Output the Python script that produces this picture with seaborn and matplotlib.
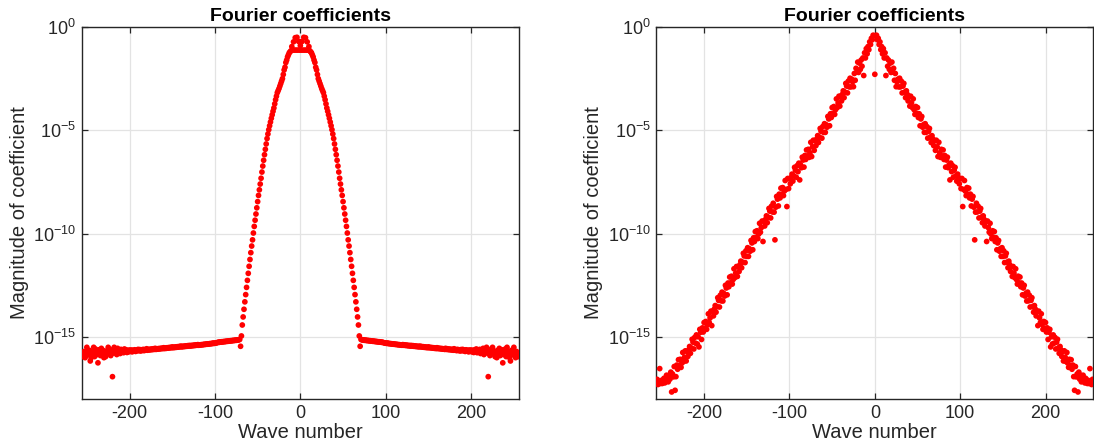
import numpy as np
import pandas as pd
import matplotlib
matplotlib.use("Agg")
import matplotlib.pyplot as plt
import seaborn as sns
from matplotlib.ticker import FixedLocator, FuncFormatter, NullLocator

# ---------------- data (log10 of |coefficient| for wave numbers 0..256; spectrum is symmetric) -------------
left_log10 = [
    -0.90, -1.12, -0.70, -1.12, -0.50, -1.12, -0.52, -1.12, -0.72, -1.12,
    -0.95, -1.15, -1.20, -1.25, -1.35, -1.45, -1.60, -1.72, -1.95, -2.08,
    -2.30, -2.50, -2.62, -2.74, -2.86, -2.98, -3.08, -3.18, -3.35, -3.52,
    -3.72, -3.92, -4.08, -4.25, -4.42, -4.60, -4.78, -4.97, -5.18, -5.40,
    -5.66, -5.92, -6.18, -6.45, -6.73, -7.02, -7.32, -7.60, -7.88, -8.15,
    -8.45, -8.75, -9.05, -9.35, -9.65, -9.97, -10.30, -10.60, -10.92, -11.25,
    -11.58, -11.92, -12.26, -12.60, -12.95, -13.30, -13.66, -14.03, -14.42, -14.95,
    -15.45, -15.12, -15.13, -15.15, -15.14, -15.16, -15.15, -15.17, -15.16, -15.18,
    -15.17, -15.19, -15.18, -15.20, -15.19, -15.21, -15.20, -15.22, -15.21, -15.23,
    -15.22, -15.24, -15.23, -15.25, -15.24, -15.26, -15.25, -15.27, -15.28, -15.29,
    -15.30, -15.31, -15.29, -15.32, -15.31, -15.33, -15.32, -15.34, -15.33, -15.35,
    -15.34, -15.36, -15.35, -15.37, -15.36, -15.38, -15.37, -15.39, -15.38, -15.40,
    -15.37, -15.40, -15.38, -15.41, -15.39, -15.42, -15.40, -15.43, -15.41, -15.44,
    -15.41, -15.44, -15.42, -15.45, -15.43, -15.46, -15.44, -15.47, -15.45, -15.48,
    -15.44, -15.48, -15.46, -15.49, -15.47, -15.50, -15.48, -15.51, -15.49, -15.52,
    -15.48, -15.52, -15.50, -15.53, -15.51, -15.54, -15.52, -15.55, -15.53, -15.56,
    -15.52, -15.56, -15.54, -15.57, -15.55, -15.58, -15.56, -15.59, -15.57, -15.60,
    -15.55, -15.60, -15.57, -15.61, -15.58, -15.62, -15.59, -15.63, -15.60, -15.64,
    -15.57, -15.64, -15.61, -15.66, -15.60, -15.65, -15.62, -15.68, -15.61, -15.66,
    -15.60, -15.67, -15.63, -15.70, -15.62, -15.68, -15.64, -15.72, -15.63, -15.69,
    -15.63, -15.72, -15.65, -15.75, -15.62, -15.70, -15.58, -15.76, -15.66, -15.73,
    -15.60, -15.80, -15.68, -15.74, -15.55, -15.85, -15.70, -15.62, -15.50, -15.78,
    -16.92, -15.70, -15.90, -15.60, -15.75, -15.50, -15.82, -15.68, -15.95, -15.72,
    -16.00, -15.65, -15.80, -15.55, -15.90, -15.75, -15.62, -16.25, -15.85, -15.70,
    -15.58, -15.95, -15.50, -15.80, -15.72, -16.00, -16.16, -15.65, -15.85, -15.75,
    -15.50, -15.90, -16.00, -15.70, -15.82, -15.95, -15.78,
]

right_log10 = [
    -2.29, -0.42, -0.40, -0.62, -0.55, -0.85, -0.72, -1.10, -0.95, -1.30,
    -1.05, -1.50, -1.25, -2.35, -1.50, -1.90, -1.60, -2.05, -1.75, -2.20,
    -1.70, -2.18, -2.00, -2.58, -2.25, -2.89, -2.65, -2.53, -2.90, -2.48,
    -2.90, -2.62, -3.19, -2.86, -2.73, -3.15, -3.42, -3.09, -3.26, -3.58,
    -3.35, -3.83, -3.35, -3.68, -3.90, -3.48, -4.00, -4.23, -3.85, -4.18,
    -3.90, -4.38, -4.20, -4.78, -4.45, -4.33, -4.85, -4.73, -5.10, -4.68,
    -5.10, -4.82, -5.38, -5.05, -4.91, -5.33, -5.59, -5.26, -5.42, -5.74,
    -5.50, -5.97, -5.48, -5.80, -6.27, -5.58, -6.09, -6.31, -5.92, -6.24,
    -5.95, -6.41, -6.22, -6.78, -6.44, -6.30, -6.81, -6.67, -7.40, -6.59,
    -7.00, -6.71, -7.27, -6.93, -6.79, -7.20, -7.46, -7.12, -7.28, -7.59,
    -7.35, -7.82, -7.33, -8.69, -7.86, -7.43, -7.94, -8.16, -7.77, -8.09,
    -7.80, -8.27, -8.09, -8.66, -8.33, -8.20, -8.72, -10.30, -8.96, -8.53,
    -8.95, -8.67, -9.24, -8.91, -8.78, -9.20, -9.47, -9.14, -9.31, -9.63,
    -9.40, -10.38, -9.39, -9.71, -9.93, -9.50, -10.02, -10.24, -9.86, -10.18,
    -9.90, -10.38, -10.20, -10.78, -10.45, -10.33, -10.85, -10.73, -11.10, -10.68,
    -11.10, -10.83, -11.40, -11.08, -10.95, -11.38, -11.65, -11.33, -11.50, -11.83,
    -11.60, -12.07, -11.59, -11.91, -12.13, -11.70, -12.22, -12.44, -12.06, -12.38,
    -12.10, -12.57, -12.39, -12.96, -12.63, -12.50, -13.02, -12.89, -13.26, -12.83,
    -13.25, -12.98, -13.55, -13.23, -13.10, -13.53, -13.80, -13.48, -13.65, -13.98,
    -13.75, -14.45, -13.75, -14.08, -14.30, -13.88, -14.40, -14.63, -14.25, -14.58,
    -14.30, -14.76, -14.56, -15.12, -14.77, -14.63, -15.48, -14.99, -15.34, -14.90,
    -15.30, -15.02, -15.58, -15.25, -15.11, -15.53, -15.79, -15.46, -15.62, -15.94,
    -15.70, -16.16, -15.67, -15.98, -16.19, -15.75, -16.26, -16.47, -16.08, -16.39,
    -16.10, -16.56, -16.36, -16.92, -17.58, -16.43, -16.93, -16.79, -17.66, -16.70,
    -17.04, -16.85, -17.17, -16.95, -16.85, -17.08, -17.22, -17.00, -17.08, -17.25,
    -17.10, -17.25, -16.53, -17.15, -17.30, -17.05, -17.20,
]

wave_numbers = np.arange(-256, 256)
title_text = "Fourier coefficients"
x_label = "Wave number"
y_label = "Magnitude of coefficient"
x_ticks = [-200, -100, 0, 100, 200]
y_tick_exponents = [-15, -10, -5, 0]

# ---------------- style ----------------
sns.set_theme(style="white")
plt.rcParams["font.family"] = ["Liberation Sans", "DejaVu Sans"]
plt.rcParams["axes.unicode_minus"] = False
plt.rcParams["mathtext.fontset"] = "custom"
plt.rcParams["mathtext.rm"] = "Liberation Sans"
plt.rcParams["mathtext.default"] = "regular"

text_color = "#262626"

fig = plt.figure(figsize=(10.94, 4.48), dpi=100)
fig.patch.set_facecolor("white")
positions = [[0.0747, 0.1094, 0.3997, 0.8304], [0.5999, 0.1094, 0.3995, 0.8304]]

for pos, half in zip(positions, [left_log10, right_log10]):
    half = np.asarray(half)
    mags = 10.0 ** half[np.abs(wave_numbers)]
    df = pd.DataFrame({"k": wave_numbers, "mag": mags})
    ax = fig.add_axes(pos)
    ax.set_yscale("log")
    sns.scatterplot(data=df, x="k", y="mag", ax=ax, color="#ff0000", s=17,
                    linewidth=0, edgecolor="none", legend=False, zorder=3)
    ax.set_xlim(-256, 256)
    ax.set_ylim(1e-18, 1e0)
    ax.xaxis.set_major_locator(FixedLocator(x_ticks))
    ax.yaxis.set_major_locator(FixedLocator([10.0 ** e for e in y_tick_exponents]))
    ax.yaxis.set_minor_locator(NullLocator())
    ax.xaxis.set_minor_locator(NullLocator())
    ax.yaxis.set_major_formatter(FuncFormatter(
        lambda v, p: r"$\mathregular{10^{%d}}$" % int(round(np.log10(v)))))
    ax.grid(True, color="#e3e3e3", linewidth=0.9, zorder=0)
    ax.set_axisbelow(True)
    for sp in ax.spines.values():
        sp.set_color(text_color)
        sp.set_linewidth(1.0)
    ax.tick_params(axis="both", which="major", direction="in", length=4, width=0.9,
                   color=text_color, labelcolor=text_color, labelsize=13,
                   top=True, right=True, bottom=True, left=True, pad=4)
    ax.set_title(title_text, fontsize=14, fontweight="bold", color="black", pad=4)
    ax.set_xlabel(x_label, fontsize=14.5, color=text_color, labelpad=1)
    ax.set_ylabel(y_label, fontsize=14.5, color=text_color, labelpad=3)

fig.savefig("out.png", dpi=100, facecolor="white")
